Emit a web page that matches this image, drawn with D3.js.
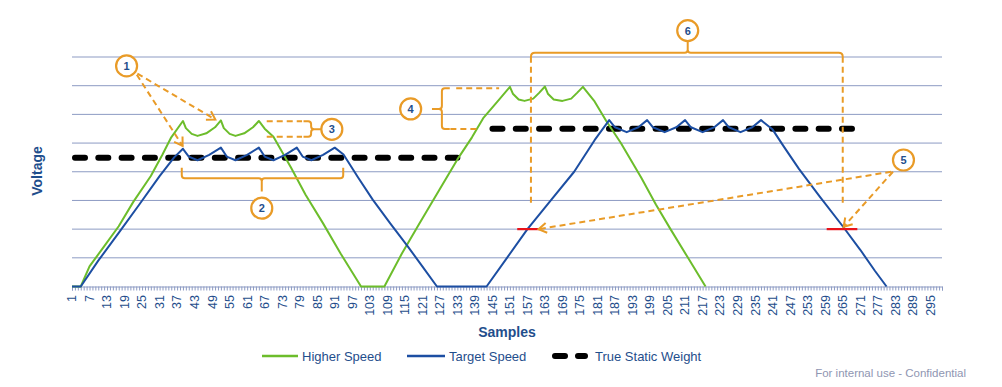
<!DOCTYPE html>
<html>
<meta charset="utf-8">
<title>Voltage vs Samples</title>
<style>
  body { margin: 0; background: #fff; }
  svg { display: block; font-family: "Liberation Sans", Arial, sans-serif; }
  .grid line { stroke: #8d9bc3; stroke-width: 1; }
  .tick-label { font-size: 12.5px; fill: #1f4e8c; }
  .axis-title { font-size: 14px; font-weight: bold; fill: #1f4e8c; }
  .legend text { font-size: 13px; fill: #1f4e8c; }
  .note { fill: none; stroke: #e99b27; stroke-width: 2; }
  .note.dash { stroke-dasharray: 6,4; }
  .badge circle { fill: #fff; stroke: #e99b27; stroke-width: 2.2; }
  .badge text { font-size: 11px; font-weight: bold; fill: #1f4e8c; }
</style>
<body>
<div id="chart"></div>
<script src="https://d3js.org/d3.v7.min.js"></script>
<script>
// sample numbers on the category axis
var samples = d3.range(1, 300);
var tickLabels = d3.range(1, 296, 6);
var gridValues = [1, 2, 3, 4, 5, 6, 7, 8];

// [sample, voltage]
var higherSpeed = [[1,0],[4,0],[7,0.7],[12,1.4],[17,2.1],[22,2.95],[28,3.85],[32,4.6],[35,5.2],[39,5.77],
  [40,5.52],[42,5.32],[44,5.25],[47,5.34],[50,5.55],[52,5.79],[53,5.52],[55,5.32],[57,5.25],[60,5.34],[63,5.55],[65,5.77],
  [67,5.5],[70,5.22],[76,4.15],[81,3.2],[87,2.2],[93,1.15],[100,0],[108,0],[114,1.15],[120,2.2],[127,3.4],[133,4.43],
  [138,5.2],[142,5.89],[147,6.48],[151,6.96],[152,6.72],[154,6.52],[156,6.47],[159,6.55],[161,6.75],[163,6.97],
  [164,6.72],[166,6.52],[169,6.47],[172,6.55],[174,6.75],[176,6.96],[180,6.45],[184,5.77],[189,5.0],[196,3.79],
  [201,2.86],[206,2.0],[212,1.0],[218,0]];

var targetSpeed = [[1,0],[4,0],[10,0.9],[17,1.87],[24,2.85],[31,3.85],[36,4.5],[39,4.8],
  [41,4.53],[44,4.4],[48,4.59],[52,4.84],[54,4.53],[57,4.4],[61,4.59],[65,4.84],[67,4.53],[70,4.4],[74,4.59],[78,4.84],
  [80,4.53],[83,4.4],[87,4.59],[91,4.84],[94,4.6],[99,3.8],[104,3.03],[110,2.2],[116,1.4],[121,0.7],[126,0],
  [143,0],[150,1.0],[157,2.0],[165,3.0],[173,4.0],[180,5.1],[185,5.8],
  [187,5.55],[191,5.38],[195,5.55],[198,5.8],[200,5.55],[204,5.38],[208,5.55],[211,5.8],[213,5.55],[217,5.38],
  [221,5.55],[224,5.8],[226,5.55],[230,5.38],[234,5.55],[237,5.8],[241,5.47],[245,4.85],[250,4.1],[257,3.15],
  [265,2.1],[271,1.28],[276,0.55],[280,0]];

var staticWeight = [[1,4.49],[133,4.49],[134,null],[144,5.5],[271,5.5]];

// red reference marks at the trigger level
var markerLevel = 2;
var markerRanges = [[153.5,161.5],[259.5,270]];

var margin = {left: 72, right: 60, top: 57, bottom: 100},
    width = 1002, height = 387;

var x = d3.scaleLinear().domain([1, 299]).range([margin.left, width - margin.right]);
var y = d3.scaleLinear().domain([0, 8]).range([286.5, margin.top]);

var svg = d3.select("#chart").append("svg")
    .attr("width", width)
    .attr("height", height);

svg.append("defs").append("marker")
    .attr("id", "chev")
    .attr("viewBox", "-10 -6 12 12")
    .attr("refX", 0).attr("refY", 0)
    .attr("markerWidth", 12).attr("markerHeight", 12)
    .attr("markerUnits", "userSpaceOnUse")
    .attr("orient", "auto")
  .append("path")
    .attr("d", "M-8,-5 L0,0 L-8,5")
    .attr("fill", "none")
    .attr("stroke", "#e99b27")
    .attr("stroke-width", 2);

// gridlines
svg.append("g").attr("class", "grid")
  .selectAll("line")
    .data(gridValues)
  .enter().append("line")
    .attr("x1", x(1)).attr("x2", x(299))
    .attr("y1", function(d) { return y(d); })
    .attr("y2", function(d) { return y(d); });

// category axis with a tick per sample
var xAxis = svg.append("g")
    .attr("transform", "translate(0," + y(0) + ")")
    .call(d3.axisBottom(x).tickValues(samples).tickSize(4).tickFormat(""));
xAxis.select(".domain").attr("stroke", "#8d9bc3");
xAxis.selectAll(".tick line").attr("stroke", "#8d9bc3");

svg.append("g")
  .selectAll("text")
    .data(tickLabels)
  .enter().append("text")
    .attr("class", "tick-label")
    .attr("transform", function(d) { return "translate(" + x(d) + ",295) rotate(-90)"; })
    .attr("text-anchor", "end")
    .attr("dy", "0.35em")
    .text(function(d) { return d; });

svg.append("text")
    .attr("class", "axis-title")
    .attr("x", 507).attr("y", 337)
    .attr("text-anchor", "middle")
    .text("Samples");

svg.append("text")
    .attr("class", "axis-title")
    .attr("transform", "translate(41.5,171) rotate(-90)")
    .attr("text-anchor", "middle")
    .text("Voltage");

var line = d3.line()
    .defined(function(d) { return d[1] !== null; })
    .x(function(d) { return x(d[0]); })
    .y(function(d) { return y(d[1]); });

svg.append("path")
    .datum(staticWeight)
    .attr("d", line)
    .attr("fill", "none")
    .attr("stroke", "#000")
    .attr("stroke-width", 6)
    .attr("stroke-linecap", "round")
    .attr("stroke-dasharray", "10,13.3")
    .attr("stroke-dashoffset", -3);

svg.append("path")
    .datum(higherSpeed)
    .attr("d", line)
    .attr("fill", "none")
    .attr("stroke", "#6cbd2b")
    .attr("stroke-width", 2)
    .attr("stroke-linejoin", "round");

svg.append("path")
    .datum(targetSpeed)
    .attr("d", line)
    .attr("fill", "none")
    .attr("stroke", "#1c4ea2")
    .attr("stroke-width", 2)
    .attr("stroke-linejoin", "round");

svg.append("g")
  .selectAll("line")
    .data(markerRanges)
  .enter().append("line")
    .attr("x1", function(d) { return x(d[0]); })
    .attr("x2", function(d) { return x(d[1]); })
    .attr("y1", y(markerLevel)).attr("y2", y(markerLevel))
    .attr("stroke", "#e8131b")
    .attr("stroke-width", 2.2);

// ---- callouts (positions in sample / voltage units) ----
var notes = svg.append("g");
function P(s, v) { return x(s) + "," + y(v); }
function arrow(a, b) {
  notes.append("path").attr("class", "note dash")
    .attr("d", "M" + P(a[0], a[1]) + "L" + P(b[0], b[1]))
    .attr("marker-end", "url(#chev)");
}
function badge(s, v, label) {
  var g = notes.append("g").attr("class", "badge")
      .attr("transform", "translate(" + x(s) + "," + y(v) + ")");
  g.append("circle").attr("r", 10.5);
  g.append("text").attr("text-anchor", "middle").attr("dy", "0.36em").text(label);
}

// 1
arrow([23.4, 7.42], [50.1, 5.82]);
arrow([23.2, 7.38], [38.9, 4.9]);
badge(19.7, 7.69, "1");

// 2 : bracket under the first plateau
var b2 = {x1: x(38.6), x2: x(93.9), xm: x(66), yt: y(4.14), yh: y(3.77), yn: y(3.31)};
notes.append("path").attr("class", "note")
  .attr("d", "M" + b2.x1 + "," + b2.yt + " V" + (b2.yh - 3) + " Q" + b2.x1 + "," + b2.yh + " " + (b2.x1 + 3) + "," + b2.yh +
    " H" + (b2.xm - 3) + " Q" + b2.xm + "," + b2.yh + " " + b2.xm + "," + (b2.yh + 3) + " V" + b2.yn +
    " M" + b2.xm + "," + (b2.yh + 3) + " Q" + b2.xm + "," + b2.yh + " " + (b2.xm + 3) + "," + b2.yh +
    " H" + (b2.x2 - 3) + " Q" + b2.x2 + "," + b2.yh + " " + b2.x2 + "," + (b2.yh - 3) + " V" + b2.yt);
badge(66, 2.73, "2");

// 3 : ripple height of the higher-speed plateau
notes.append("path").attr("class", "note dash")
  .attr("d", "M" + P(67.7, 5.76) + "H" + x(79.8) + "M" + P(67.7, 5.22) + "H" + x(79.8));
var b3 = {x0: x(80.3), xv: x(82.9), xn: x(86.4), yt: y(5.76), ym: y(5.48), yb: y(5.22)};
notes.append("path").attr("class", "note")
  .attr("d", "M" + b3.x0 + "," + b3.yt + " H" + (b3.xv - 3) + " Q" + b3.xv + "," + b3.yt + " " + b3.xv + "," + (b3.yt + 3) +
    " V" + (b3.ym - 3) + " Q" + b3.xv + "," + b3.ym + " " + (b3.xv + 3) + "," + b3.ym + " H" + b3.xn +
    " M" + (b3.xv + 3) + "," + b3.ym + " Q" + b3.xv + "," + b3.ym + " " + b3.xv + "," + (b3.ym + 3) +
    " V" + (b3.yb - 3) + " Q" + b3.xv + "," + b3.yb + " " + (b3.xv - 3) + "," + b3.yb + " H" + b3.x0);
badge(90, 5.48, "3");

// 4 : gap between the higher-speed peak and the true weight
notes.append("path").attr("class", "note dash")
  .attr("d", "M" + P(132.6, 6.91) + "H" + x(147.3) + "M" + P(130.6, 5.49) + "H" + x(139.6));
var b4 = {x0: x(130.4), xv: x(127.7), xn: x(124.3), yt: y(6.91), ym: y(6.19), yb: y(5.49)};
notes.append("path").attr("class", "note")
  .attr("d", "M" + b4.x0 + "," + b4.yt + " H" + (b4.xv + 3) + " Q" + b4.xv + "," + b4.yt + " " + b4.xv + "," + (b4.yt + 3) +
    " V" + (b4.ym - 3) + " Q" + b4.xv + "," + b4.ym + " " + (b4.xv - 3) + "," + b4.ym + " H" + b4.xn +
    " M" + (b4.xv - 3) + "," + b4.ym + " Q" + b4.xv + "," + b4.ym + " " + b4.xv + "," + (b4.ym + 3) +
    " V" + (b4.yb - 3) + " Q" + b4.xv + "," + b4.yb + " " + (b4.xv + 3) + "," + b4.yb + " H" + b4.x0);
badge(117, 6.19, "4");

// 6 : window between the two trigger points
var b6 = {xl: x(158.2), xr: x(265), xm: x(211.9), y0: y(8.15), yc: y(8.52), yd: y(2.78)};
notes.append("path").attr("class", "note")
  .attr("d", "M" + b6.xl + "," + (b6.y0 + 10) + " V" + (b6.y0 + 4) + " Q" + b6.xl + "," + b6.y0 + " " + (b6.xl + 4) + "," + b6.y0 +
    " H" + (b6.xm - 3) + " Q" + b6.xm + "," + b6.y0 + " " + b6.xm + "," + (b6.y0 - 3) + " V" + b6.yc +
    " M" + b6.xm + "," + (b6.y0 - 3) + " Q" + b6.xm + "," + b6.y0 + " " + (b6.xm + 3) + "," + b6.y0 +
    " H" + (b6.xr - 4) + " Q" + b6.xr + "," + b6.y0 + " " + b6.xr + "," + (b6.y0 + 4) + " V" + (b6.y0 + 10));
notes.append("path").attr("class", "note dash")
  .attr("d", "M" + b6.xl + "," + (b6.y0 + 14) + " V" + b6.yd + " M" + b6.xr + "," + (b6.y0 + 14) + " V" + b6.yd);
badge(211.9, 8.92, "6");

// 5
arrow([281.6, 4.0], [160.8, 2.0]);
arrow([282.2, 4.0], [265.3, 2.08]);
badge(285.8, 4.41, "5");

// legend
var legend = svg.append("g").attr("class", "legend");
var legendItems = [
  {name: "Higher Speed", x1: 262, x2: 298, color: "#6cbd2b", w: 2.5, dash: null},
  {name: "Target Speed", x1: 407, x2: 445, color: "#1c4ea2", w: 2.5, dash: null},
  {name: "True Static Weight", x1: 555, x2: 585, color: "#000", w: 6, dash: "10,13"}
];
legendItems.forEach(function(d) {
  legend.append("line")
    .attr("x1", d.x1).attr("x2", d.x2).attr("y1", 356).attr("y2", 356)
    .attr("stroke", d.color).attr("stroke-width", d.w)
    .attr("stroke-linecap", d.dash ? "round" : "butt")
    .attr("stroke-dasharray", d.dash);
  legend.append("text")
    .attr("x", d.x2 + (d.dash ? 10 : 4)).attr("y", 360.5)
    .text(d.name);
});

svg.append("text")
    .attr("x", 966).attr("y", 377)
    .attr("text-anchor", "end")
    .style("font-size", "11.5px")
    .style("fill", "#8f96b2")
    .text("For internal use - Confidential");
</script>
</body>
</html>
